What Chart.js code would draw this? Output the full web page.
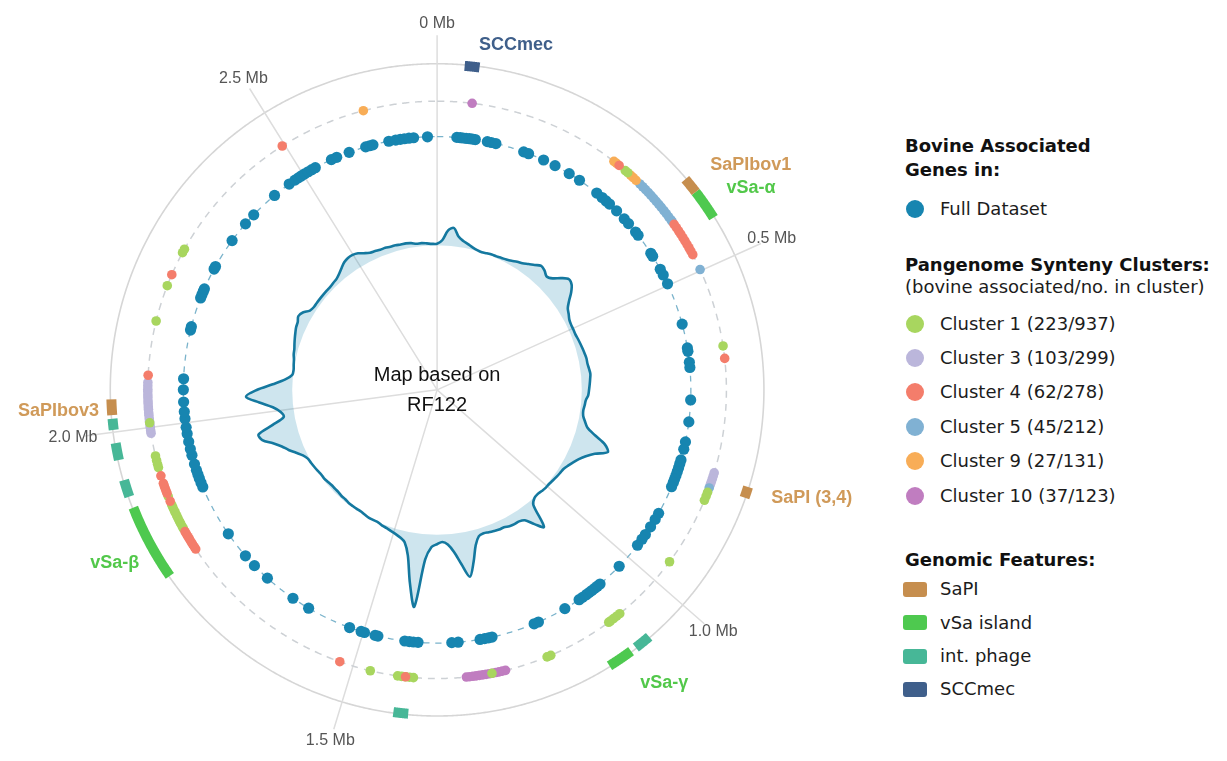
<!DOCTYPE html>
<html>
<head>
<meta charset="utf-8">
<script src="https://cdn.jsdelivr.net/npm/chart.js@4.4.1/dist/chart.umd.min.js"></script>
<style>
  html, body { margin: 0; padding: 0; background: #ffffff; }
  body { width: 1227px; height: 761px; position: relative; overflow: hidden; }
  #ringCanvas { position: absolute; left: 0; top: 0; }
  #densityCanvas { position: absolute; left: 75px; top: 28px; pointer-events: none; }
  .lg { position: absolute; font-family: "DejaVu Sans", sans-serif; font-size: 18px; color: #1c1c1c;
        height: 26px; line-height: 26px; white-space: nowrap; }
  .lg.b { font-weight: bold; color: #111; }
  .dot { position: absolute; width: 18px; height: 18px; border-radius: 50%; }
  .sq { position: absolute; width: 24px; height: 15px; border-radius: 3px; }
</style>
</head>
<body>
<canvas id="ringCanvas" width="890" height="761"></canvas>
<canvas id="densityCanvas" width="724" height="724"></canvas>
<div id="legend"></div>
<script>
// Reference genome length (RF122), in Mb
const GENOME_MB = 2.742531;

// Axis ticks around the circle
const tickMb = [0, 0.5, 1.0, 1.5, 2.0, 2.5];
const tickLabels = ['0 Mb', '0.5 Mb', '1.0 Mb', '1.5 Mb', '2.0 Mb', '2.5 Mb'];

// Bovine associated genes in the full dataset (gene positions, Mb)
const fullDatasetMb = [
  0.034, 0.040, 0.045, 0.050, 0.056, 0.061, 0.066, 0.087, 0.094, 0.102, 0.152, 0.161, 0.189, 0.211, 0.239, 0.260,
  0.297, 0.309, 0.318, 0.326, 0.343, 0.362, 0.373, 0.392, 0.399, 0.437, 0.443, 0.469, 0.480, 0.497,
  0.571, 0.613, 0.619, 0.638, 0.647, 0.703, 0.741, 0.776, 0.789,
  0.808, 0.815, 0.822, 0.829, 0.836, 0.843, 0.849, 0.857,
  0.908, 0.920, 0.935, 0.951, 0.961, 0.974, 1.022,
  1.067, 1.073, 1.079, 1.085, 1.091, 1.097, 1.105, 1.112, 1.141, 1.192, 1.200,
  1.276, 1.282, 1.289, 1.297, 1.335, 1.346, 1.404, 1.412, 1.419, 1.427,
  1.474, 1.479, 1.498, 1.504, 1.525, 1.603, 1.635, 1.691, 1.722, 1.745, 1.793,
  1.885, 1.893, 1.901, 1.908, 1.916, 1.927, 1.943, 1.954, 1.967, 1.981, 1.992, 2.007, 2.019, 2.036, 2.057, 2.076,
  2.161, 2.167, 2.219, 2.225, 2.231, 2.236, 2.274, 2.279, 2.332, 2.369, 2.390, 2.439,
  2.471, 2.483, 2.490, 2.496, 2.503, 2.510, 2.517, 2.524, 2.555, 2.565, 2.588, 2.618, 2.625, 2.631, 2.659,
  2.671, 2.679, 2.686, 2.694, 2.702, 2.726
];

// Bovine associated genes per pangenome synteny cluster (positions, Mb)
const cluster1Mb = [0.309, 0.314, 0.619, 0.844, 0.850, 0.857, 0.964, 1.073, 1.079, 1.085, 1.091, 1.094,
  1.195, 1.201, 1.288, 1.407, 1.413, 1.419, 1.425, 1.431, 1.473,
  1.838, 1.842, 1.847, 1.851, 1.856, 1.860, 1.865, 1.869, 1.874, 1.878,
  1.892, 1.938, 1.943, 1.949, 1.956, 2.007, 2.162, 2.218, 2.273, 2.279];
const cluster3Mb = [0.813, 0.818, 0.823, 0.828, 0.832,
  1.991, 1.995, 2.000, 2.004, 2.009, 2.013, 2.018, 2.022, 2.027, 2.031, 2.036, 2.040, 2.045, 2.049,
  2.054, 2.058, 2.063, 2.068];
const cluster4Mb = [0.297, 0.419, 0.425, 0.431, 0.437, 0.443, 0.449, 0.455, 0.461, 0.467, 0.473, 0.638,
  1.419, 1.521, 1.802, 1.806, 1.811, 1.815, 1.820, 1.824, 1.829, 1.833,
  1.884, 1.897, 1.901, 1.905, 1.909, 1.913, 1.925, 2.079, 2.236, 2.496];
const cluster5Mb = [0.339, 0.345, 0.351, 0.357, 0.363, 0.369, 0.375, 0.381, 0.387, 0.393, 0.399, 0.405,
  0.411, 0.414, 0.498, 0.837];
const cluster9Mb = [0.287, 0.292, 0.320, 0.325, 0.331, 2.630];
const cluster10Mb = [0.053, 1.267, 1.272, 1.277, 1.282, 1.287, 1.292, 1.297, 1.302, 1.307, 1.312, 1.317,
  1.322, 1.327];

// Genomic features: [start, end] in Mb
const sapiRegions = [[0.378, 0.400], [0.818, 0.833], [2.023, 2.044]];
const vsaRegions = [[0.400, 0.442], [1.093, 1.128], [1.791, 1.895]];
const phageRegions = [[1.062, 1.085], [1.410, 1.430], [1.911, 1.934], [1.962, 1.985], [2.003, 2.018]];
const sccmecRegions = [[0.037, 0.057]];

// Relative density of bovine associated genes, one value per equal-width window
// (windows start at 0 and run clockwise round the genome)
const densityValues = [
  0.2, 0.7, 2.1, 2.5, 1.4, 0.9, 0.6, 0.3, 0.1, 0.0,
  0.1, 0.2, 0.2, 0.3, 0.4, 0.6, 0.9, 1.1, 1.5, 1.9,
  2.4, 2.2, 1.8, 2.2, 3.1, 3.8, 3.6, 2.9, 2.0, 1.3,
  1.0, 0.7, 0.6, 0.6, 0.6, 0.7, 0.8, 0.9, 1.0, 1.1,
  1.1, 1.2, 1.3, 1.2, 1.1, 1.0, 0.9, 0.6, 0.5, 0.4,
  0.5, 0.9, 1.4, 2.7, 4.4, 5.1, 3.5, 2.5, 1.8, 1.3,
  0.9, 0.6, 0.5, 0.4, 0.3, 0.2, 0.2, 0.1, 0.0, 0.1,
  0.7, 4.0, 2.9, 1.7, 1.4, 1.4, 1.3, 1.1, 1.1, 1.0,
  0.9, 0.8, 1.0, 2.1, 4.3, 6.2, 4.3, 2.5, 1.4, 1.0,
  1.3, 1.7, 3.5, 10.1, 6.9, 3.2, 1.5, 1.0, 0.7, 0.5,
  0.3, 0.2, 0.0, 0.0, 0.0, -0.1, -0.2, -0.2, -0.2, -0.2,
  -0.3, -0.3, -0.4, -0.4, -0.4, -0.3, -0.2, -0.2, -0.1, 0.0,
  0.1, 0.2, 0.6, 1.3, 2.1, 2.8, 3.8, 5.1, 5.4, 3.2,
  1.5, 1.8, 2.8, 4.6, 6.4, 4.9, 2.7, 1.0, 0.1, 0.0,
  0.1, 0.2, 0.4, 0.5, 0.7, 0.9, 1.1, 1.3, 1.4, 1.7,
  1.4, 0.7, 0.5, 0.5, 0.5, 0.5, 0.5, 0.5, 0.6, 0.7,
  1.0, 1.4, 1.8, 2.0, 2.0, 1.8, 1.4, 1.1, 1.0, 0.9,
  0.9, 0.8, 0.8, 0.7, 0.7, 0.6, 0.4, 0.4, 0.3, 0.2
];
const densityWindowMb = densityValues.map((_, i) => +(i * GENOME_MB / densityValues.length).toFixed(4));

// ---- colours ----
const COL = {
  full: '#1785b0',
  c1: '#a8d65f', c3: '#bbb6db', c4: '#f47d6b', c5: '#80b1d3', c9: '#f8ad57', c10: '#c07dc0',
  sapi: '#c68e4e', vsa: '#4ec94f', phage: '#47b797', sccmec: '#3f5f8b'
};

// ---- ring layout (pixels from the centre) ----
const R_FULL = 257, R_CLUSTER = 293, R_OUTER = 331, R_FEATURE = 330, R_TICKLINE = 360, R_TICKLABEL = 372;

// Label anchors for the genomic features (position along the genome, distance from centre)
const featureLabels = [
  { text: 'SCCmec', color: '#3f5f8a', mb: 0.098, r: 359 },
  { text: 'SaPIbov1', color: '#d09a59', mb: 0.414, r: 391 },
  { text: 'vSa-α', color: '#52c84a', mb: 0.436, r: 378 },
  { text: 'SaPI (3,4)', color: '#d09a59', mb: 0.809, r: 395 },
  { text: 'vSa-γ', color: '#52c84a', mb: 1.084, r: 376 },
  { text: 'SaPIbov3', color: '#d09a59', mb: 2.032, r: 384 },
  { text: 'vSa-β', color: '#52c84a', mb: 1.841, r: 371 }
];

// position along the genome -> x/y on the ring scales (0 Mb at the top, clockwise)
function toXY(mb, r) {
  const a = mb / GENOME_MB * 2 * Math.PI;
  return { x: r * Math.sin(a), y: r * Math.cos(a) };
}
function circlePath(r) {
  const pts = [];
  for (let i = 0; i <= 720; i++) pts.push(toXY(i / 720 * GENOME_MB, r));
  return pts;
}
function arcPath(start, end, r) {
  const pts = [], n = 24;
  for (let i = 0; i <= n; i++) pts.push(toXY(start + (end - start) * i / n, r));
  return pts;
}

// ---- datasets, listed from bottom layer to top layer ----
const layers = [];
// a tiny tension keeps Chart.js on its regular (non pixel-merging) line path
const lineLayer = (data, color, width, dash) => ({
  data, showLine: true, borderColor: color, borderWidth: width, borderDash: dash || [],
  borderJoinStyle: 'round', pointRadius: 0, fill: false, tension: 0.0001
});

layers.push(lineLayer(circlePath(R_OUTER), '#d6d6d6', 1.6));
tickMb.forEach(m => layers.push(lineLayer([{ x: 0, y: 0 }, toXY(m, R_TICKLINE)], '#dddddd', 1.5)));
layers.push(lineLayer(circlePath(R_CLUSTER), '#cdd1d5', 1.5, [7, 6]));
layers.push(lineLayer(circlePath(R_FULL), '#7ab3cb', 1.3, [6, 6]));

const featureSets = [
  [phageRegions, COL.phage], [vsaRegions, COL.vsa], [sapiRegions, COL.sapi], [sccmecRegions, COL.sccmec]
];
featureSets.forEach(([regions, color]) => {
  regions.forEach(([s, e]) => {
    const ds = lineLayer(arcPath(s, e, R_FEATURE), color, 10);
    ds.borderCapStyle = 'butt';
    layers.push(ds);
  });
});

const pointLayer = (values, r, color, radius) => ({
  data: values.map(m => toXY(m, r)), showLine: false,
  pointRadius: radius, pointBackgroundColor: color, pointBorderWidth: 0, pointBorderColor: color
});
layers.push(pointLayer(fullDatasetMb, R_FULL, COL.full, 5.6));
layers.push(pointLayer(cluster10Mb, R_CLUSTER, COL.c10, 4.8));
layers.push(pointLayer(cluster3Mb, R_CLUSTER, COL.c3, 4.8));
layers.push(pointLayer(cluster5Mb, R_CLUSTER, COL.c5, 4.8));
layers.push(pointLayer(cluster9Mb, R_CLUSTER, COL.c9, 4.8));
layers.push(pointLayer(cluster1Mb, R_CLUSTER, COL.c1, 4.8));
layers.push(pointLayer(cluster4Mb, R_CLUSTER, COL.c4, 4.8));

// Chart.js draws dataset 0 on top, so hand them over top-first
const ringDatasets = layers.slice().reverse();

// Text drawn on the ring chart: tick labels, feature names, centre caption
const ringText = {
  id: 'ringText',
  afterDatasetsDraw(chart) {
    const { ctx } = chart;
    const sx = chart.scales.x, sy = chart.scales.y;
    const at = p => [sx.getPixelForValue(p.x), sy.getPixelForValue(p.y)];
    ctx.save();
    ctx.textAlign = 'center';
    ctx.textBaseline = 'middle';

    ctx.font = '16px "Liberation Sans", Arial, sans-serif';
    ctx.fillStyle = '#555555';
    tickMb.forEach((m, i) => {
      const [px, py] = at(toXY(m, R_TICKLABEL));
      ctx.fillText(tickLabels[i], px, py);
    });

    ctx.font = 'bold 18px "Liberation Sans", Arial, sans-serif';
    featureLabels.forEach(f => {
      const [px, py] = at(toXY(f.mb, f.r));
      ctx.fillStyle = f.color;
      ctx.fillText(f.text, px, py);
    });

    ctx.font = '20px "Liberation Sans", Arial, sans-serif';
    ctx.fillStyle = '#111111';
    const [cx, cy] = at({ x: 0, y: 0 });
    ctx.fillText('Map based on', cx, cy - 14);
    ctx.fillText('RF122', cx, cy + 16);
    ctx.restore();
  }
};

new Chart(document.getElementById('ringCanvas'), {
  type: 'scatter',
  data: { datasets: ringDatasets },
  options: {
    responsive: false,
    animation: false,
    events: [],
    layout: { padding: 0 },
    plugins: { legend: { display: false }, tooltip: { enabled: false } },
    scales: {
      x: { type: 'linear', min: -437, max: 453, display: false },
      y: { type: 'linear', min: -371, max: 390, display: false }
    }
  },
  plugins: [ringText]
});

// Gene density curve, filled against its baseline circle
new Chart(document.getElementById('densityCanvas'), {
  type: 'radar',
  data: {
    labels: densityWindowMb,
    datasets: [{
      data: densityValues,
      fill: { value: 0 },
      backgroundColor: 'rgba(23,133,176,0.21)',
      borderColor: '#14789f',
      borderWidth: 2.6,
      pointRadius: 0,
      tension: 0.3
    }]
  },
  options: {
    responsive: false,
    animation: false,
    events: [],
    layout: { padding: 0 },
    plugins: { legend: { display: false }, tooltip: { enabled: false } },
    scales: {
      r: {
        min: -20, max: 30, startAngle: 0,
        grid: { display: false, circular: true },
        angleLines: { display: false },
        ticks: { display: false },
        pointLabels: { display: false }
      }
    }
  }
});

// ---- legend ----
const legendGroups = [
  { title: ['Bovine Associated', 'Genes in:'], titleTops: [133, 157], rows: [['Full Dataset', COL.full, 209]], shape: 'dot' },
  {
    title: ['Pangenome Synteny Clusters:'], titleTops: [252], note: '(bovine associated/no. in cluster)', noteTop: 274,
    rows: [
      ['Cluster 1 (223/937)', COL.c1, 324], ['Cluster 3 (103/299)', COL.c3, 358],
      ['Cluster 4 (62/278)', COL.c4, 392], ['Cluster 5 (45/212)', COL.c5, 426.5],
      ['Cluster 9 (27/131)', COL.c9, 461], ['Cluster 10 (37/123)', COL.c10, 495.5]
    ], shape: 'dot'
  },
  {
    title: ['Genomic Features:'], titleTops: [547],
    rows: [['SaPI', COL.sapi, 589], ['vSa island', COL.vsa, 622.5], ['int. phage', COL.phage, 656], ['SCCmec', COL.sccmec, 689]],
    shape: 'sq'
  }
];
const legend = document.getElementById('legend');
function addDiv(cls, text, left, top, extra) {
  const d = document.createElement('div');
  d.className = cls;
  if (text) d.textContent = text;
  d.style.left = left + 'px';
  d.style.top = top + 'px';
  Object.assign(d.style, extra || {});
  legend.appendChild(d);
}
legendGroups.forEach(g => {
  g.title.forEach((t, i) => addDiv('lg b', t, 905, g.titleTops[i]));
  if (g.note) addDiv('lg', g.note, 905, g.noteTop);
  g.rows.forEach(([label, color, cy]) => {
    if (g.shape === 'dot') addDiv('dot', '', 906, cy - 9, { background: color });
    else addDiv('sq', '', 903, cy - 7.5, { background: color });
    addDiv('lg', label, 940, cy - 13);
  });
});
</script>
</body>
</html>
